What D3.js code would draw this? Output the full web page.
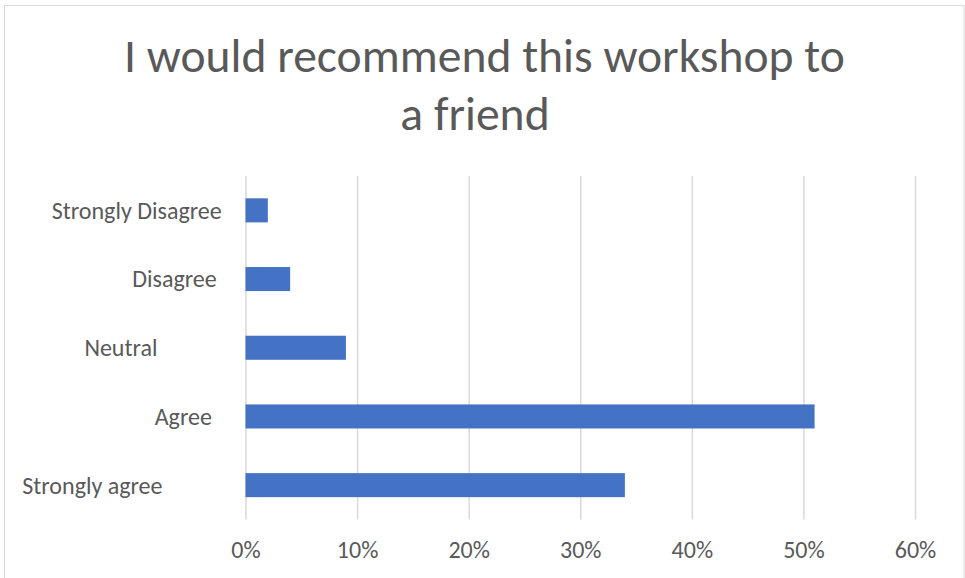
<!DOCTYPE html>
<html>
<head>
<meta charset="utf-8">
<script src="https://cdn.jsdelivr.net/npm/d3@7"></script>
<style>
  html, body { margin: 0; padding: 0; background: #fff; }
  svg { display: block; }
  text { font-family: Carlito, Calibri, Lato, "Open Sans", sans-serif; fill: #595959; }
</style>
</head>
<body>
<svg id="chart" width="965" height="578"></svg>
<script>
// Survey responses, top to bottom
const categories = ["Strongly Disagree", "Disagree", "Neutral", "Agree", "Strongly agree"];
const shares = [0.02, 0.04, 0.09, 0.51, 0.34];
const tickValues = [0, 0.1, 0.2, 0.3, 0.4, 0.5, 0.6];
const titleLines = ["I would recommend this workshop to", "a friend"];

// Horizontal centres of the category labels (they sit unevenly, as in the source sheet)
const labelCenters = [136.7, 174.5, 120.9, 183.3, 92.4];

const svg = d3.select("#chart");
const W = 965, H = 578;

// Chart frame
svg.append("rect")
  .attr("x", 4.5).attr("y", 5.5)
  .attr("width", 959.5).attr("height", 600)
  .attr("fill", "#fff").attr("stroke", "#d9d9d9").attr("stroke-width", 1);

const plot = { left: 245.5, right: 915, top: 176, bottom: 519.5 };

const x = d3.scaleLinear().domain([0, 0.6]).range([plot.left, plot.right]);
const y = d3.scaleBand().domain(categories)
  .range([plot.top, plot.bottom])
  .paddingInner(0.65).paddingOuter(0.325);

// Fit a text element's font size so it spans a given width
function fitWidth(sel, target, start) {
  sel.style("font-size", start + "px");
  const w = sel.node().getComputedTextLength();
  const size = start * target / w;
  sel.style("font-size", size + "px");
  return size;
}

// Title
const t1 = svg.append("text").attr("x", 484.5).attr("y", 72)
  .attr("text-anchor", "middle").text(titleLines[0]);
const titleSize = fitWidth(t1, 721, 40);
svg.append("text").attr("x", 475).attr("y", 130)
  .attr("text-anchor", "middle").style("font-size", titleSize + "px")
  .text(titleLines[1]);

// Vertical gridlines via the x axis
const xAxis = d3.axisBottom(x).tickValues(tickValues)
  .tickFormat(d3.format(".0%"))
  .tickSize(-(plot.bottom - plot.top)).tickPadding(0);

const gx = svg.append("g").attr("transform", `translate(0,${plot.bottom})`).call(xAxis);
gx.select(".domain").remove();
gx.selectAll(".tick line").attr("stroke", "#d9d9d9").attr("stroke-width", 1.5);
gx.selectAll(".tick text").attr("y", 0).attr("dy", 0)
  .attr("transform", `translate(0,${558 - plot.bottom})`);

// Measure label size from the widest category label
const probe = svg.append("text").text(categories[0]);
const labelSize = fitWidth(probe, 170, 20);
probe.remove();
gx.selectAll(".tick text").style("font-size", labelSize + "px").attr("fill", "#595959");

// Bars
svg.append("g").selectAll("rect").data(categories).join("rect")
  .attr("x", x(0))
  .attr("y", d => y(d))
  .attr("width", (d, i) => x(shares[i]) - x(0))
  .attr("height", y.bandwidth())
  .attr("fill", "#4472c4");

// Category labels
svg.append("g").selectAll("text").data(categories).join("text")
  .attr("x", (d, i) => labelCenters[i])
  .attr("y", d => y(d) + y.bandwidth() / 2)
  .attr("dy", "0.35em")
  .attr("text-anchor", "middle")
  .style("font-size", labelSize + "px")
  .text(d => d);
</script>
</body>
</html>
